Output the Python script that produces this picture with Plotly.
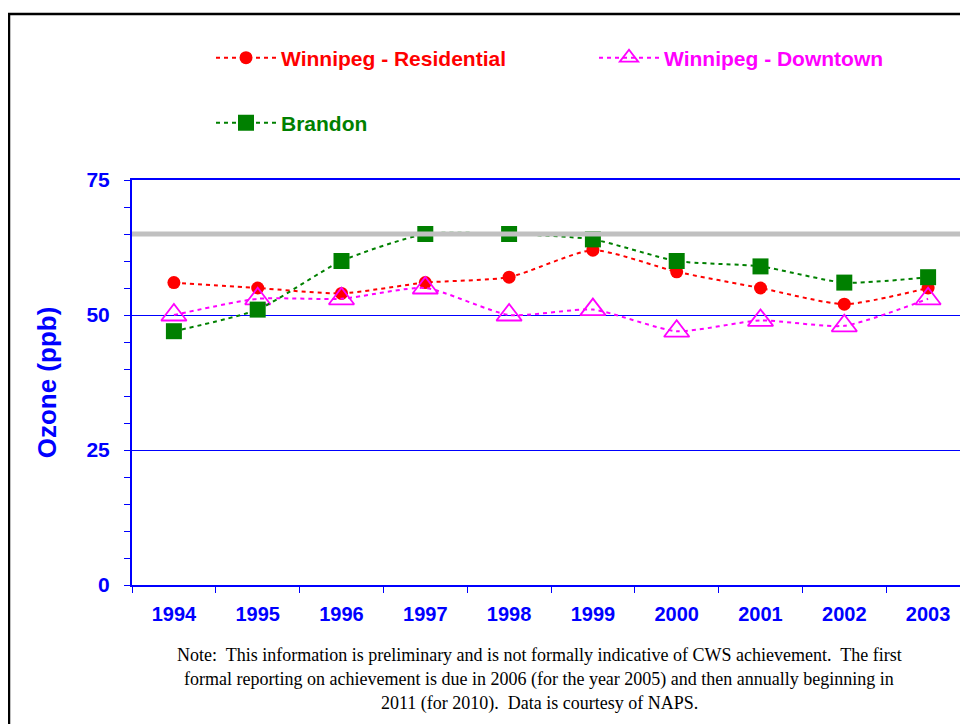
import plotly.graph_objects as go

years = ["1994", "1995", "1996", "1997", "1998", "1999", "2000", "2001", "2002", "2003"]
wpg_residential = [56, 55, 54, 56, 57, 62, 58, 55, 52, 55]
wpg_downtown = [50, 53, 53, 55, 50, 51, 47, 49, 48, 53]
brandon = [47, 51, 60, 65, 65, 64, 60, 59, 56, 57]
cws_standard = 65
y_ticks = [0, 25, 50, 75]

note_lines = [
    "Note:  This information is preliminary and is not formally indicative of CWS achievement.  The first",
    "formal reporting on achievement is due in 2006 (for the year 2005) and then annually beginning in",
    "2011 (for 2010).  Data is courtesy of NAPS.",
]

# page offset (body margin) of the figure in the screenshot
O = 8
W, H = 968, 724
# screen-pixel geometry of the plot area
plot_left, plot_top, plot_bottom = 132, 180, 585
spacing = 83.8
L = plot_left - O
T = plot_top - O
B = H - (plot_bottom - O)
R = 0
pw = W - L - R
ph = H - T - B
xr = [-0.5, -0.5 + pw / spacing]

def px_x(p):
    return (p - O - L) / pw

def px_y(p):
    return (H - B - (p - O)) / ph

fig = go.Figure()
dash = "4px,4px"
fig.add_trace(go.Scatter(
    x=years, y=wpg_residential, name="Winnipeg - Residential", mode="lines+markers",
    line=dict(color="#FF0000", width=2, dash=dash, shape="spline", smoothing=0.6),
    marker=dict(symbol="circle", size=13, color="#FF0000"),
    legend="legend",
))
fig.add_trace(go.Scatter(
    x=years, y=wpg_downtown, name="Winnipeg - Downtown", mode="lines+markers",
    line=dict(color="#FF00FF", width=2, dash=dash, shape="spline", smoothing=0.6),
    marker=dict(symbol="triangle-up-open", size=22, color="#FF00FF", line=dict(width=1.8, color="#FF00FF")),
    legend="legend2",
))
fig.add_trace(go.Scatter(
    x=years, y=brandon, name="Brandon", mode="lines+markers",
    line=dict(color="#008000", width=2, dash=dash, shape="spline", smoothing=0.6),
    marker=dict(symbol="square", size=16, color="#008000"),
    legend="legend3",
))

fig.add_shape(type="line", xref="paper", yref="y", x0=0, x1=1, y0=cws_standard, y1=cws_standard,
              line=dict(color="#C0C0C0", width=5), layer="above")

# outer border
fig.add_shape(type="rect", xref="paper", yref="paper",
              x0=px_x(9), x1=px_x(1100), y0=px_y(14), y1=px_y(900),
              line=dict(color="black", width=2.5), layer="above")

legfont = dict(family="Liberation Sans, Arial, sans-serif", size=21, weight="bold")
common = dict(orientation="h", xanchor="left", yanchor="middle", bgcolor="rgba(0,0,0,0)",
              itemwidth=60, borderwidth=0)

for i, line in enumerate(note_lines):
    fig.add_annotation(text=line, xref="paper", yref="paper", x=px_x(539), y=px_y(655 + i * 24),
                       showarrow=False, xanchor="center", yanchor="middle",
                       font=dict(family="Liberation Serif, Times New Roman, serif", size=18, color="black"))

fig.update_layout(
    width=W, height=H,
    margin=dict(l=L, r=R, t=T, b=B, autoexpand=False),
    paper_bgcolor="white", plot_bgcolor="white",
    legend=dict(x=px_x(211), y=px_y(58), font=dict(color="#FF0000", **legfont), **common),
    legend2=dict(x=px_x(594), y=px_y(58), font=dict(color="#FF00FF", **legfont), **common),
    legend3=dict(x=px_x(211), y=px_y(123), font=dict(color="#008000", **legfont), **common),
    xaxis=dict(
        type="category", range=xr, tickson="boundaries", ticks="outside", ticklen=6,
        tickcolor="#0000FF", tickwidth=1, showline=True, linecolor="#0000FF", linewidth=1.5,
        mirror=True, showgrid=False, zeroline=False,
        tickfont=dict(family="Liberation Sans, Arial, sans-serif", size=20, color="#0000FF", weight="bold"),
        ticklabelstandoff=10,
    ),
    yaxis=dict(
        range=[0, 75], tickvals=y_ticks, ticks="outside", ticklen=6, tickcolor="#0000FF",
        showline=True, linecolor="#0000FF", linewidth=2, showgrid=True, gridcolor="#0000FF",
        gridwidth=1, zeroline=False,
        tickfont=dict(family="Liberation Sans, Arial, sans-serif", size=21, color="#0000FF", weight="bold"),
        ticklabelstandoff=10,
        minor=dict(dtick=5, tick0=0, ticks="outside", ticklen=6, tickcolor="#0000FF", showgrid=False),
        title=dict(text="Ozone (ppb)", standoff=22,
                   font=dict(family="Liberation Sans, Arial, sans-serif", size=26, color="#0000FF", weight="bold")),
    ),
    showlegend=True,
)

fig.write_html("out.html")
